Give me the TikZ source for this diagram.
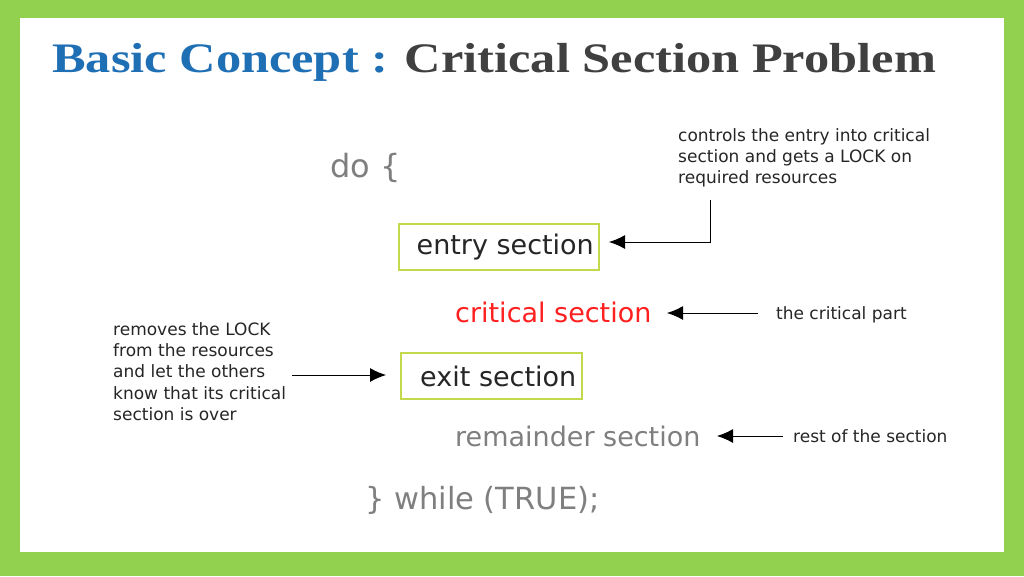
\documentclass[tikz,border=0pt]{standalone}
\usepackage{fontspec}
\setmainfont{DejaVu Sans}
\newfontfamily\titlefont{Liberation Serif}
\usetikzlibrary{arrows.meta}
\definecolor{frame}{HTML}{92D050}
\definecolor{tblue}{HTML}{1F6FB5}
\definecolor{tgray}{HTML}{404040}
\definecolor{cgray}{HTML}{7F7F7F}
\definecolor{boxc}{HTML}{C3D84A}
\definecolor{cred}{HTML}{FF2020}
\tikzset{
  code/.style={anchor=west,inner sep=0pt,font=\fontsize{27}{30}\selectfont},
  boxed/.style={draw=boxc,line width=1.5pt,anchor=west,inner sep=0pt,font=\fontsize{27}{30}\selectfont,text=black!85,minimum height=46pt},
  note/.style={anchor=north west,inner sep=0pt,align=left,font=\fontsize{17}{21.3}\selectfont,text=black!85},
  arr/.style={-{Latex[length=16pt,width=14pt]},line width=1pt}
}
\begin{document}
\begin{tikzpicture}[x=1pt,y=-1pt]
\fill[frame] (0,0) rectangle (1024,576);
\fill[white] (20,18) rectangle (1004,552);
\useasboundingbox (0,0) rectangle (1024,576);
\node[anchor=base west,inner sep=0pt,font=\titlefont\bfseries\fontsize{42}{44}\selectfont] (title) at (52,72) {\scalebox{1.2}[1]{\textcolor{tblue}{Basic Concept :} \textcolor{tgray}{Critical Section Problem}}};
\node[code,text=cgray,font=\fontsize{32}{34}\selectfont] (do) at (330,168) {do \{};
\node[boxed,minimum width=200pt] (entry) at (398,247) {\hspace{13pt}entry section};
\node[code,text=cred] (crit) at (455,312) {critical section};
\node[boxed,minimum width=181pt] (exit) at (400,376) {\hspace{14pt}exit section};
\node[code,text=cgray] (rem) at (455,436) {remainder section};
\node[code,text=cgray,font=\fontsize{30.5}{32}\selectfont] (wh) at (365,500) {\} while (TRUE);};
\node[note] (n1) at (678,128) {controls the entry into critical\\section and gets a LOCK on\\required resources};
\node[note,anchor=west] (n2) at (776,315) {the critical part};
\node[note] (n3) at (113,322) {removes the LOCK\\from the resources\\and let the others\\know that its critical\\section is over};
\node[note,anchor=west] (n4) at (793,436) {rest of the section};
\coordinate (c1) at (710,200);
\coordinate (t1) at (609,242);
\coordinate (t2) at (667,313);
\coordinate (t3) at (386,375);
\coordinate (t4) at (717,436);
\draw[arr] (c1) -- (710,242) -- (t1);
\draw[arr] (758,313) -- (t2);
\draw[arr] (292,375) -- (t3);
\draw[arr] (783,436) -- (t4);
\end{tikzpicture}
\end{document}
